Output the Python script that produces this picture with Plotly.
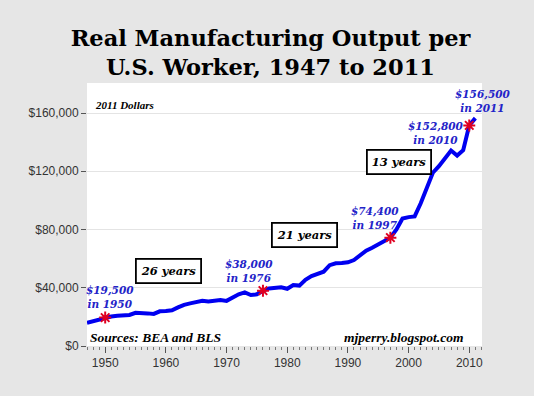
import plotly.graph_objects as go

years = list(range(1947, 2012))
output = [
    16000, 17200, 18000, 19500, 20300, 20800, 21000, 21300, 22800, 22300,
    22400, 22000, 23800, 24000, 24500, 26500, 28300, 29300, 30300, 31000,
    30500, 31300, 31600, 31000, 33500, 35500, 36800, 35000, 35500, 38000,
    39500, 40000, 40300, 39300, 41900, 41500, 45500, 48000, 49800, 51000,
    55500, 56800, 57000, 57500, 59000, 62000, 65500, 67500, 70000, 72000,
    74400, 80000, 87500, 88500, 89000, 98000, 108000, 119000, 123500, 129000,
    134200, 130800, 134500, 151500, 156500,
]
star_years = [1950, 1976, 1997, 2010]
star_labels = ["$19,500<br>in 1950", "$38,000<br>in 1976", "$74,400<br>in 1997",
               "$152,800<br>in 2010"]
end_label = "$156,500<br>in 2011"
box_labels = ["26 years", "21 years", "13 years"]
y_ticks = [0, 40000, 80000, 120000, 160000]
y_tick_labels = ["$0", "$40,000", "$80,000", "$120,000", "$160,000"]
x_ticks = [1950, 1960, 1970, 1980, 1990, 2000, 2010]

star_vals = [output[years.index(y)] for y in star_years]

SERIF = "DejaVu Serif, Georgia, serif"
SERIF2 = "Liberation Serif, Times New Roman, serif"
SANS = "Liberation Sans, Arial, sans-serif"
BLUE_TXT = "#2323c8"

fig = go.Figure()
fig.add_trace(go.Scatter(x=years, y=output, mode="lines",
                         line=dict(color="#0000f0", width=4), hoverinfo="skip"))
fig.add_trace(go.Scatter(x=star_years, y=star_vals, mode="markers",
                         marker=dict(symbol="asterisk-open", size=10, color="#e00020",
                                     line=dict(color="#e00020", width=2)),
                         hoverinfo="skip"))

label_pos = [(1950.8, 33600), (1973.7, 51800), (1994.5, 88200), (2004.5, 146600)]
for txt, (lx, ly) in zip(star_labels, label_pos):
    fig.add_annotation(x=lx, y=ly, xref="x", yref="y", text="<b><i>" + txt + "</i></b>",
                       showarrow=False, font=dict(family=SERIF, size=10.5, color=BLUE_TXT),
                       align="center", xanchor="center", yanchor="middle")
fig.add_annotation(x=1.0013, y=0.9316, xref="paper", yref="paper",
                   text="<b><i>" + end_label + "</i></b>", showarrow=False,
                   font=dict(family=SERIF, size=10.5, color=BLUE_TXT),
                   align="center", xanchor="center", yanchor="middle")

box_pos = [(1960.4, 51800), (1982.9, 76200), (1998.5, 126400)]
for txt, (bx, by) in zip(box_labels, box_pos):
    fig.add_annotation(x=bx, y=by, xref="x", yref="y", text="<b><i>" + txt + "</i></b>",
                       showarrow=False, font=dict(family=SERIF, size=11.5, color="black"),
                       bordercolor="black", borderwidth=1.8, borderpad=4, bgcolor="white",
                       xanchor="center", yanchor="middle")

fig.add_annotation(x=0.015, y=0.916, xref="paper", yref="paper", xanchor="left", yanchor="middle",
                   text="<b><i>2011 Dollars</i></b>", showarrow=False,
                   font=dict(family=SERIF2, size=11, color="black"))
fig.add_annotation(x=0.003, y=0.034, xref="paper", yref="paper", xanchor="left", yanchor="middle",
                   text="<b><i>Sources: BEA and BLS</i></b>", showarrow=False,
                   font=dict(family=SERIF2, size=13.5, color="black"))
fig.add_annotation(x=0.96, y=0.034, xref="paper", yref="paper", xanchor="right", yanchor="middle",
                   text="<b><i>mjperry.blogspot.com</i></b>", showarrow=False,
                   font=dict(family=SERIF2, size=13.5, color="black"))

fig.update_layout(
    width=534, height=396,
    paper_bgcolor="#e6e6e6", plot_bgcolor="white",
    margin=dict(l=87, r=52, t=83, b=50),
    showlegend=False,
    title=dict(text="<b>Real Manufacturing Output per<br>U.S. Worker, 1947 to 2011</b>",
               x=0.5066, xanchor="center", xref="container",
               y=0.884, yanchor="top", yref="container",
               font=dict(family=SERIF, size=22.5, color="black")),
)
fig.update_xaxes(range=[1947.0, 2012.1], tickvals=x_ticks, ticks="outside", ticklen=6,
                 tickcolor="#555", tickwidth=1, showgrid=False, zeroline=False,
                 tickfont=dict(family=SANS, size=12, color="#333"),
                 minor=dict(dtick=1, ticks="outside", ticklen=3, tickcolor="#777", showgrid=False))
fig.update_yaxes(range=[0, 180600], tickvals=y_ticks, ticktext=y_tick_labels,
                 ticks="outside", ticklen=5, tickcolor="#555",
                 showgrid=True, gridcolor="#e4e4e4", gridwidth=1, zeroline=False,
                 tickfont=dict(family=SANS, size=12, color="#333"))

fig.write_html("out.html", config={"displayModeBar": False},
               post_script="document.body.style.margin='0';document.body.style.background='#e6e6e6';document.body.style.overflow='hidden';")
